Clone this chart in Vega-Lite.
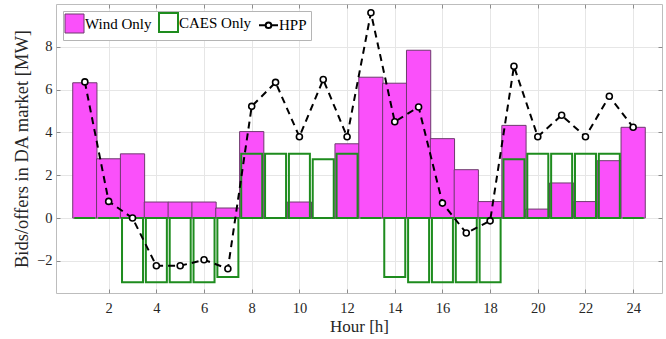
{
  "$schema": "https://vega.github.io/schema/vega-lite/v6.json",
  "width": 606,
  "height": 289,
  "autosize": {"type": "none"},
  "padding": {"left": 56, "top": 4, "right": 4, "bottom": 46},
  "background": "white",
  "config": {
    "font": "Liberation Serif",
    "view": {"stroke": "#bdbdbd", "strokeWidth": 1},
    "axis": {
      "labelFont": "Liberation Serif",
      "titleFont": "Liberation Serif",
      "labelFontSize": 14.5,
      "titleFontSize": 17,
      "titleFontWeight": "normal",
      "labelColor": "#262626",
      "titleColor": "#262626",
      "gridColor": "#e6e6e6",
      "gridWidth": 1,
      "tickColor": "#8c8c8c",
      "tickSize": -4,
      "domain": false
    }
  },
  "data": {
    "values": [
      {"hour": 1, "series": "Wind Only", "value": 6.32},
      {"hour": 2, "series": "Wind Only", "value": 2.77},
      {"hour": 3, "series": "Wind Only", "value": 3.0},
      {"hour": 4, "series": "Wind Only", "value": 0.75},
      {"hour": 5, "series": "Wind Only", "value": 0.75},
      {"hour": 6, "series": "Wind Only", "value": 0.75},
      {"hour": 7, "series": "Wind Only", "value": 0.47},
      {"hour": 8, "series": "Wind Only", "value": 4.04},
      {"hour": 9, "series": "Wind Only", "value": 0},
      {"hour": 10, "series": "Wind Only", "value": 0.75},
      {"hour": 11, "series": "Wind Only", "value": 0},
      {"hour": 12, "series": "Wind Only", "value": 3.47},
      {"hour": 13, "series": "Wind Only", "value": 6.58},
      {"hour": 14, "series": "Wind Only", "value": 6.3},
      {"hour": 15, "series": "Wind Only", "value": 7.84},
      {"hour": 16, "series": "Wind Only", "value": 3.71},
      {"hour": 17, "series": "Wind Only", "value": 2.26},
      {"hour": 18, "series": "Wind Only", "value": 0.77},
      {"hour": 19, "series": "Wind Only", "value": 4.33},
      {"hour": 20, "series": "Wind Only", "value": 0.42},
      {"hour": 21, "series": "Wind Only", "value": 1.64},
      {"hour": 22, "series": "Wind Only", "value": 0.77},
      {"hour": 23, "series": "Wind Only", "value": 2.68},
      {"hour": 24, "series": "Wind Only", "value": 4.24},
      {"hour": 1, "series": "CAES Only", "value": 0},
      {"hour": 2, "series": "CAES Only", "value": 0},
      {"hour": 3, "series": "CAES Only", "value": -3},
      {"hour": 4, "series": "CAES Only", "value": -3},
      {"hour": 5, "series": "CAES Only", "value": -3},
      {"hour": 6, "series": "CAES Only", "value": -3},
      {"hour": 7, "series": "CAES Only", "value": -2.75},
      {"hour": 8, "series": "CAES Only", "value": 3},
      {"hour": 9, "series": "CAES Only", "value": 3},
      {"hour": 10, "series": "CAES Only", "value": 3},
      {"hour": 11, "series": "CAES Only", "value": 2.75},
      {"hour": 12, "series": "CAES Only", "value": 3},
      {"hour": 13, "series": "CAES Only", "value": 0},
      {"hour": 14, "series": "CAES Only", "value": -2.75},
      {"hour": 15, "series": "CAES Only", "value": -3},
      {"hour": 16, "series": "CAES Only", "value": -3},
      {"hour": 17, "series": "CAES Only", "value": -3},
      {"hour": 18, "series": "CAES Only", "value": -3},
      {"hour": 19, "series": "CAES Only", "value": 2.75},
      {"hour": 20, "series": "CAES Only", "value": 3},
      {"hour": 21, "series": "CAES Only", "value": 3},
      {"hour": 22, "series": "CAES Only", "value": 3},
      {"hour": 23, "series": "CAES Only", "value": 3},
      {"hour": 24, "series": "CAES Only", "value": 0},
      {"hour": 1, "series": "HPP", "value": 6.36},
      {"hour": 2, "series": "HPP", "value": 0.78},
      {"hour": 3, "series": "HPP", "value": 0},
      {"hour": 4, "series": "HPP", "value": -2.23},
      {"hour": 5, "series": "HPP", "value": -2.23},
      {"hour": 6, "series": "HPP", "value": -1.95},
      {"hour": 7, "series": "HPP", "value": -2.37},
      {"hour": 8, "series": "HPP", "value": 5.22},
      {"hour": 9, "series": "HPP", "value": 6.34},
      {"hour": 10, "series": "HPP", "value": 3.8},
      {"hour": 11, "series": "HPP", "value": 6.47},
      {"hour": 12, "series": "HPP", "value": 3.8},
      {"hour": 13, "series": "HPP", "value": 9.59},
      {"hour": 14, "series": "HPP", "value": 4.5},
      {"hour": 15, "series": "HPP", "value": 5.19},
      {"hour": 16, "series": "HPP", "value": 0.7},
      {"hour": 17, "series": "HPP", "value": -0.7},
      {"hour": 18, "series": "HPP", "value": -0.13},
      {"hour": 19, "series": "HPP", "value": 7.09},
      {"hour": 20, "series": "HPP", "value": 3.8},
      {"hour": 21, "series": "HPP", "value": 4.8},
      {"hour": 22, "series": "HPP", "value": 3.8},
      {"hour": 23, "series": "HPP", "value": 5.69},
      {"hour": 24, "series": "HPP", "value": 4.24}
    ]
  },
  "resolve": {"axis": {"x": "independent", "y": "independent"}},
  "layer": [
    {
      "transform": [{"filter": "datum.series === 'Wind Only'"}],
      "mark": {"type": "bar", "size": 24.24, "strokeWidth": 1, "opacity": 1},
      "encoding": {
        "x": {
          "field": "hour", "type": "quantitative",
          "scale": {"domain": [0, 25], "nice": false, "zero": false},
          "axis": {"orient": "bottom", "values": [2, 4, 6, 8, 10, 12, 14, 16, 18, 20, 22, 24], "labelPadding": 12, "title": "Hour [h]", "titlePadding": 4, "grid": true}
        },
        "y": {
          "field": "value", "type": "quantitative",
          "scale": {"domain": [-3.5, 10], "nice": false},
          "axis": {"orient": "left", "values": [-2, 0, 2, 4, 6, 8], "labelPadding": 8, "title": "Bids/offers in DA market [MW]", "titleFontSize": 18.5, "titlePadding": 5, "grid": true}
        },
        "fill": {
          "field": "series", "type": "nominal",
          "scale": {"domain": ["Wind Only", "CAES Only", "HPP"], "range": ["#fa50fa", "transparent", "white"]},
          "legend": {
            "title": null,
            "orient": "top-left",
            "direction": "horizontal",
            "offset": 7,
            "padding": 4,
            "fillColor": "white",
            "strokeColor": "#b5b5b5",
            "symbolSize": 361,
            "labelFont": "Liberation Serif",
            "labelFontSize": 15,
            "labelColor": "black",
            "labelOffset": 3,
            "columnPadding": 3,
            "symbolOpacity": 1,
            "encode": {
              "symbols": {
                "update": {
                  "shape": {"signal": "datum.value === 'HPP' ? 'M-1,0L-0.3,0M0.3,0L1,0M0.3,0A0.3,0.3,0,1,1,-0.3,0A0.3,0.3,0,1,1,0.3,0' : 'square'"},
                  "fill": {"signal": "datum.value === 'Wind Only' ? '#fa50fa' : 'white'"},
                  "stroke": {"signal": "datum.value === 'Wind Only' ? '#6e3a6e' : (datum.value === 'CAES Only' ? '#1e8c1e' : 'black')"},
                  "strokeWidth": {"signal": "datum.value === 'Wind Only' ? 1 : 2"}
                }
              }
            }
          }
        },
        "stroke": {
          "field": "series", "type": "nominal",
          "scale": {"domain": ["Wind Only", "CAES Only", "HPP"], "range": ["#6e3a6e", "#1e8c1e", "black"]},
          "legend": null
        }
      }
    },
    {
      "transform": [{"filter": "datum.series === 'CAES Only'"}],
      "mark": {"type": "bar", "size": 21, "strokeWidth": 2, "opacity": 1},
      "encoding": {
        "x": {"field": "hour", "type": "quantitative", "axis": null},
        "y": {"field": "value", "type": "quantitative", "axis": null},
        "fill": {"field": "series", "type": "nominal"},
        "stroke": {"field": "series", "type": "nominal"}
      }
    },
    {
      "transform": [{"filter": "datum.series === 'HPP'"}],
      "mark": {"type": "line", "strokeDash": [7, 5], "strokeWidth": 2},
      "encoding": {
        "x": {"field": "hour", "type": "quantitative", "axis": null},
        "y": {"field": "value", "type": "quantitative", "axis": null},
        "stroke": {"field": "series", "type": "nominal"}
      }
    },
    {
      "transform": [{"filter": "datum.series === 'HPP'"}],
      "mark": {"type": "point", "shape": "circle", "size": 36, "fill": "white", "stroke": "black", "strokeWidth": 1.6, "opacity": 1, "filled": false},
      "encoding": {
        "x": {
          "field": "hour", "type": "quantitative",
          "axis": {"orient": "top", "values": [2, 4, 6, 8, 10, 12, 14, 16, 18, 20, 22, 24], "labels": false, "grid": false, "title": null}
        },
        "y": {
          "field": "value", "type": "quantitative",
          "axis": {"orient": "right", "values": [-2, 0, 2, 4, 6, 8], "labels": false, "grid": false, "title": null}
        }
      }
    }
  ]
}
